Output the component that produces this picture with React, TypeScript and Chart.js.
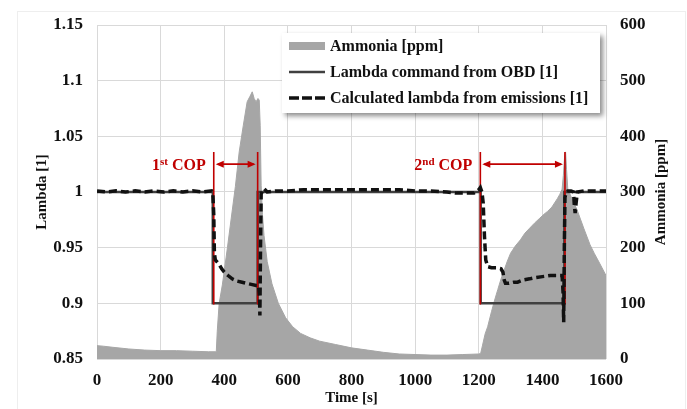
import React, { useEffect, useRef } from 'react';
import { Chart, registerables } from 'chart.js';
Chart.register(...registerables);

const FONT = '"Liberation Serif", "DejaVu Serif", serif';

// ---------- data ----------
const ammoniaTime = [0, 20, 50, 100, 150, 200, 250, 300, 350, 372, 375, 378, 384, 394, 410, 422, 435, 447, 460, 472, 481, 488, 494, 500, 506, 510, 513, 516, 520, 525, 535, 550, 570, 593, 615, 640, 670, 700, 750, 800, 850, 900, 950, 1000, 1050, 1100, 1150, 1200, 1206, 1212, 1220, 1228, 1240, 1250, 1260, 1269, 1280, 1290, 1300, 1315, 1331, 1345, 1360, 1375, 1390, 1405, 1416, 1430, 1447, 1455, 1462, 1466, 1470, 1473, 1476, 1480, 1490, 1509, 1530, 1550, 1563, 1580, 1600];
const ammoniaPpm = [24, 23, 21, 18, 16, 15, 15, 14, 13, 13, 14, 50, 100, 133, 200, 253, 310, 372, 420, 462, 472, 480, 468, 462, 468, 465, 420, 312, 260, 222, 175, 135, 100, 74, 58, 46, 38, 32, 26, 20, 16, 12, 9, 8, 7, 7, 8, 9, 10, 25, 45, 58, 85, 106, 125, 142, 160, 176, 190, 203, 214, 226, 235, 244, 252, 260, 265, 273, 288, 296, 305, 330, 365, 372, 340, 305, 292, 268, 235, 205, 190, 172, 150];

const cmdTime = [0, 364, 364, 505, 505, 1206, 1206, 1469, 1469, 1600];
const cmdLambda = [1, 1, 0.9, 0.9, 1, 1, 0.9, 0.9, 1, 1];

const calcTime = [0, 30, 60, 90, 120, 150, 180, 210, 240, 270, 300, 330, 360, 364, 367, 369, 372, 378, 384, 392, 400, 412, 425, 440, 456, 470, 485, 500, 508, 511, 512, 514, 516, 520, 525, 535, 560, 600, 650, 700, 750, 800, 850, 900, 950, 1000, 1050, 1100, 1130, 1160, 1185, 1200, 1205, 1210, 1214, 1218, 1222, 1228, 1240, 1255, 1270, 1276, 1280, 1284, 1295, 1310, 1322, 1340, 1360, 1375, 1400, 1425, 1445, 1462, 1465, 1467, 1469, 1471, 1475, 1480, 1490, 1498, 1500, 1503, 1506, 1510, 1530, 1560, 1600];
const calcLambda = [1.001, 1.0, 1.001, 1.0, 1.001, 1.0, 1.001, 1.0, 1.001, 1.0, 1.001, 1.0, 1.001, 0.999, 0.98, 0.945, 0.939, 0.937, 0.935, 0.931, 0.928, 0.925, 0.922, 0.92, 0.919, 0.918, 0.917, 0.916, 0.916, 0.905, 0.889, 0.95, 0.998, 1.001, 1.003, 1.0, 1.001, 1.001, 1.002, 1.002, 1.002, 1.002, 1.002, 1.002, 1.002, 1.001, 1.001, 1.0, 0.999, 0.999, 0.999, 1.002, 1.004, 1.0, 0.99, 0.96, 0.939, 0.933, 0.932, 0.932, 0.931, 0.928, 0.921, 0.918, 0.918, 0.919, 0.919, 0.921, 0.922, 0.923, 0.924, 0.925, 0.925, 0.925, 0.91, 0.883, 0.95, 0.995, 1.0, 1.001, 1.001, 1.0, 0.99, 0.981, 0.99, 1.0, 1.001, 1.001, 1.001];

const lambdaTicks = [0.85, 0.9, 0.95, 1, 1.05, 1.1, 1.15];
const lambdaTickLabels = ['0.85', '0.9', '0.95', '1', '1.05', '1.1', '1.15'];
const ammoniaTicks = [0, 100, 200, 300, 400, 500, 600];
const ammoniaTickLabels = ['0', '100', '200', '300', '400', '500', '600'];
const timeTicks = [0, 200, 400, 600, 800, 1000, 1200, 1400, 1600];
const timeTickLabels = ['0', '200', '400', '600', '800', '1000', '1200', '1400', '1600'];

const copNumbers = ['1', '2'];
const copSuffix = ['st', 'nd'];
const copStart = [367, 1205];
const copEnd = [505, 1471];
const copTop = 1.036;
const copBottom = 0.899;
const copArrowY = 1.025;

const seriesLabels = ['Ammonia [ppm]', 'Lambda command from OBD [1]', 'Calculated lambda from emissions [1]'];
const rightTitle = 'Ammonia [ppm]';

const RED = '#c00000';
const GRID = '#d9d9d9';

const toXY = (xs: number[], ys: number[]) => xs.map((x, i) => ({ x, y: ys[i] }));

function arrowHead(ctx: CanvasRenderingContext2D, x: number, y: number, dir: number) {
  ctx.beginPath();
  ctx.moveTo(x, y);
  ctx.lineTo(x - dir * 8, y - 3.5);
  ctx.lineTo(x - dir * 8, y + 3.5);
  ctx.closePath();
  ctx.fill();
}

const annotationPlugin = {
  id: 'copAnnot',
  afterDatasetDraw(chart: any, args: any) {
    if (args.index !== 1) return;
    const ctx = chart.ctx as CanvasRenderingContext2D;
    const xs = chart.scales.x;
    const ys = chart.scales.y;
    ctx.save();
    ctx.strokeStyle = RED;
    ctx.fillStyle = RED;
    ctx.lineWidth = 1.6;
    const yTop = ys.getPixelForValue(copTop);
    const yBot = ys.getPixelForValue(copBottom);
    const yArr = ys.getPixelForValue(copArrowY);
    for (let i = 0; i < copStart.length; i++) {
      const x1 = xs.getPixelForValue(copStart[i]);
      const x2 = xs.getPixelForValue(copEnd[i]);
      ctx.beginPath();
      ctx.moveTo(x1, yTop);
      ctx.lineTo(x1, yBot);
      ctx.moveTo(x2, yTop);
      ctx.lineTo(x2, yBot);
      ctx.stroke();
      ctx.beginPath();
      ctx.moveTo(x1 + 4, yArr);
      ctx.lineTo(x2 - 4, yArr);
      ctx.stroke();
      arrowHead(ctx, x1 + 2, yArr, -1);
      arrowHead(ctx, x2 - 2, yArr, 1);
    }
    ctx.restore();
  },
  afterDraw(chart: any) {
    const ctx = chart.ctx as CanvasRenderingContext2D;
    const xs = chart.scales.x;
    const ys = chart.scales.y;
    const area = chart.chartArea;
    ctx.save();
    // COP labels
    const yArr = ys.getPixelForValue(copArrowY);
    ctx.fillStyle = RED;
    ctx.textBaseline = 'alphabetic';
    for (let i = 0; i < copStart.length; i++) {
      const x1 = xs.getPixelForValue(copStart[i]);
      const big = 'bold 16px ' + FONT;
      const small = 'bold 11px ' + FONT;
      ctx.font = big;
      const wN = ctx.measureText(copNumbers[i]).width;
      const wC = ctx.measureText(' COP').width;
      ctx.font = small;
      const wS = ctx.measureText(copSuffix[i]).width;
      const total = wN + wS + wC;
      let x = x1 - 8 - total;
      const base = yArr + 6;
      ctx.font = big;
      ctx.textAlign = 'left';
      ctx.fillText(copNumbers[i], x, base);
      x += wN;
      ctx.font = small;
      ctx.fillText(copSuffix[i], x, base - 5);
      x += wS;
      ctx.font = big;
      ctx.fillText(' COP', x, base);
    }
    // right axis title, reading bottom-to-top
    ctx.save();
    ctx.translate(661, (area.top + area.bottom) / 2);
    ctx.rotate(-Math.PI / 2);
    ctx.fillStyle = '#111111';
    ctx.font = 'bold 15px ' + FONT;
    ctx.textAlign = 'center';
    ctx.textBaseline = 'middle';
    ctx.fillText(rightTitle, 0, 0);
    ctx.restore();
    // legend
    const lx = 282, ly = 33, lw = 318, lh = 80;
    ctx.save();
    ctx.shadowColor = 'rgba(0,0,0,0.45)';
    ctx.shadowBlur = 5;
    ctx.shadowOffsetX = 3;
    ctx.shadowOffsetY = 3;
    ctx.fillStyle = '#ffffff';
    ctx.fillRect(lx, ly, lw, lh);
    ctx.restore();
    const rows = [ly + 13, ly + 39, ly + 65];
    const sx1 = lx + 7, sx2 = lx + 43;
    ctx.fillStyle = '#a6a6a6';
    ctx.fillRect(sx1, rows[0] - 4, sx2 - sx1, 8);
    ctx.strokeStyle = '#404040';
    ctx.lineWidth = 2.5;
    ctx.beginPath();
    ctx.moveTo(sx1, rows[1]);
    ctx.lineTo(sx2, rows[1]);
    ctx.stroke();
    ctx.strokeStyle = '#111111';
    ctx.lineWidth = 3.5;
    ctx.setLineDash([10, 3]);
    ctx.beginPath();
    ctx.moveTo(sx1, rows[2]);
    ctx.lineTo(sx2, rows[2]);
    ctx.stroke();
    ctx.setLineDash([]);
    ctx.fillStyle = '#111111';
    ctx.font = 'bold 16px ' + FONT;
    ctx.textAlign = 'left';
    ctx.textBaseline = 'middle';
    for (let i = 0; i < seriesLabels.length; i++) {
      ctx.fillText(seriesLabels[i], lx + 48, rows[i] + 1);
    }
    // faint outer frame
    ctx.strokeStyle = '#eeeeee';
    ctx.lineWidth = 1;
    ctx.strokeRect(17.5, 11.5, 668, 400);
    ctx.restore();
  },
};

export default function App() {
  const ref = useRef<HTMLCanvasElement>(null);
  useEffect(() => {
    const tickFont = { family: FONT, size: 17, weight: 'bold' as const };
    const titleFont = { family: FONT, size: 15, weight: 'bold' as const };
    const chart = new Chart(ref.current!, {
      type: 'line',
      data: {
        datasets: [
          {
            label: seriesLabels[0],
            data: toXY(ammoniaTime, ammoniaPpm),
            yAxisID: 'y1',
            fill: 'origin',
            backgroundColor: '#a6a6a6',
            borderColor: '#a6a6a6',
            borderWidth: 1,
            pointRadius: 0,
            order: 3,
          },
          {
            label: seriesLabels[1],
            data: toXY(cmdTime, cmdLambda),
            yAxisID: 'y',
            borderColor: '#404040',
            borderWidth: 2.5,
            pointRadius: 0,
            fill: false,
            order: 2,
          },
          {
            label: seriesLabels[2],
            data: toXY(calcTime, calcLambda),
            yAxisID: 'y',
            borderColor: '#111111',
            borderWidth: 3.5,
            borderDash: [8, 4],
            pointRadius: 0,
            fill: false,
            order: 1,
          },
        ],
      },
      options: {
        responsive: false,
        animation: false,
        layout: { padding: { top: 25, left: 0, right: 0, bottom: 0 } },
        plugins: { legend: { display: false }, tooltip: { enabled: false } },
        scales: {
          x: {
            type: 'linear',
            position: 'bottom',
            min: 0,
            max: 1600,
            afterBuildTicks: (s: any) => { s.ticks = timeTicks.map((v) => ({ value: v })); },
            afterFit: (s: any) => { s.height = 50; },
            ticks: { font: tickFont, color: '#111', padding: 11, maxRotation: 0, autoSkip: false, callback: (_v: any, i: number) => timeTickLabels[i] },
            grid: { color: GRID, drawTicks: false },
            border: { display: false },
            title: { display: true, text: 'Time [s]', font: titleFont, color: '#111', padding: { top: 0, bottom: 2 } },
          },
          y: {
            type: 'linear',
            position: 'left',
            min: 0.85,
            max: 1.15,
            afterBuildTicks: (s: any) => { s.ticks = lambdaTicks.map((v) => ({ value: v })); },
            afterFit: (s: any) => { s.width = 97; },
            ticks: { font: tickFont, color: '#111', padding: 14, callback: (_v: any, i: number) => lambdaTickLabels[i] },
            grid: { color: GRID, drawTicks: false },
            border: { display: false },
            title: { display: true, text: 'Lambda [1]', font: titleFont, color: '#111', padding: { top: 33, bottom: 0 } },
          },
          y1: {
            type: 'linear',
            position: 'right',
            min: 0,
            max: 600,
            afterBuildTicks: (s: any) => { s.ticks = ammoniaTicks.map((v) => ({ value: v })); },
            afterFit: (s: any) => { s.width = 81; },
            ticks: { font: tickFont, color: '#111', padding: 14, callback: (_v: any, i: number) => ammoniaTickLabels[i] },
            grid: { display: false, drawTicks: false },
            border: { display: false },
            title: { display: false },
          },
        },
      },
      plugins: [annotationPlugin],
    } as any);
    return () => chart.destroy();
  }, []);
  return (
    <canvas
      ref={ref}
      width={687}
      height={409}
      style={{ position: 'fixed', left: 0, top: 0, width: 687, height: 409, display: 'block' }}
    />
  );
}
